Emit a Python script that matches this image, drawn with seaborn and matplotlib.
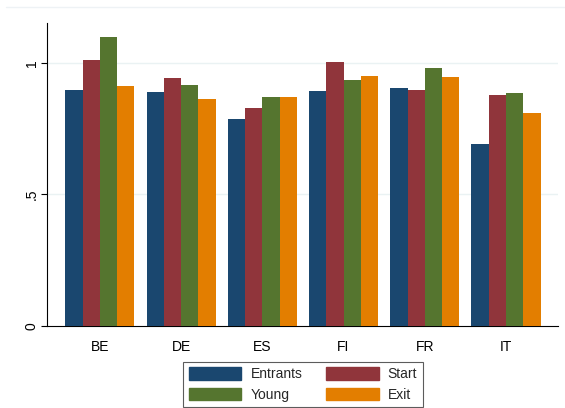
import matplotlib
matplotlib.use("Agg")
import matplotlib.pyplot as plt
import seaborn as sns
import pandas as pd
from matplotlib.lines import Line2D

countries = ["BE", "DE", "ES", "FI", "FR", "IT"]
series = ["Entrants", "Start", "Young", "Exit"]
entrants = [0.897, 0.890, 0.787, 0.892, 0.906, 0.693]
start = [1.011, 0.942, 0.829, 1.005, 0.899, 0.878]
young = [1.100, 0.918, 0.870, 0.934, 0.980, 0.886]
exit_ = [0.912, 0.864, 0.870, 0.952, 0.946, 0.811]
yticks = [0, 0.5, 1]
ytick_labels = ["0", ".5", "1"]

colors = ["#1a476f", "#90353b", "#55752f", "#e37e00"]

rows = []
for name, vals in zip(series, [entrants, start, young, exit_]):
    for c, v in zip(countries, vals):
        rows.append({"country": c, "series": name, "value": v})
df = pd.DataFrame(rows)

sns.set_theme(style="white")
plt.rcParams["font.family"] = ["Liberation Sans", "DejaVu Sans"]

fig = plt.figure(figsize=(5.65, 4.08), dpi=100)
ax = fig.add_axes([47/565, 1-326/408, (558-47)/565, (326-23)/408])

sns.barplot(data=df, x="country", y="value", hue="series", order=countries,
            hue_order=series, palette=colors, width=0.85, gap=0,
            saturation=1, linewidth=0, errorbar=None, ax=ax, zorder=3)

ax.set_xlim(-0.65, 5.64)
ax.set_ylim(0, 1.152)
ax.set_yticks(yticks)
ax.set_yticklabels(ytick_labels, rotation=90, va="center", fontsize=10, color="black")
for lab in ax.get_xticklabels():
    lab.set_fontsize(10)
    lab.set_color("black")
ax.set_xlabel("")
ax.set_ylabel("")
for y in [0.5, 1]:
    ax.axhline(y, color="#eaf2f3", lw=1, zorder=1)
for s in ["top", "right"]:
    ax.spines[s].set_visible(False)
ax.spines["left"].set_color("black")
ax.spines["bottom"].set_color("black")
ax.spines["left"].set_linewidth(0.8)
ax.spines["bottom"].set_linewidth(0.8)
ax.tick_params(axis="y", which="both", left=True, length=4, width=0.8, color="black", pad=2)
ax.tick_params(axis="x", bottom=False, pad=4)

fig.add_artist(Line2D([6/565, 1], [1-7/408, 1-7/408], color="#eef2f5", lw=1))

ax.get_legend().remove()
handles = [plt.Rectangle((0, 0), 1, 1, color=c) for c in colors]
order = [0, 2, 1, 3]
leg = fig.legend([handles[i] for i in order], [series[i] for i in order],
                 ncol=2, loc="center",
                 bbox_to_anchor=(303/565, 1-384.5/408), frameon=True,
                 fancybox=False, edgecolor="#333333", fontsize=10,
                 handlelength=3.8, handleheight=1.0, handletextpad=0.65,
                 columnspacing=1.7, labelspacing=0.45, borderpad=0.4)
leg.get_frame().set_linewidth(0.8)

fig.savefig("out.png", dpi=100, facecolor="white")
